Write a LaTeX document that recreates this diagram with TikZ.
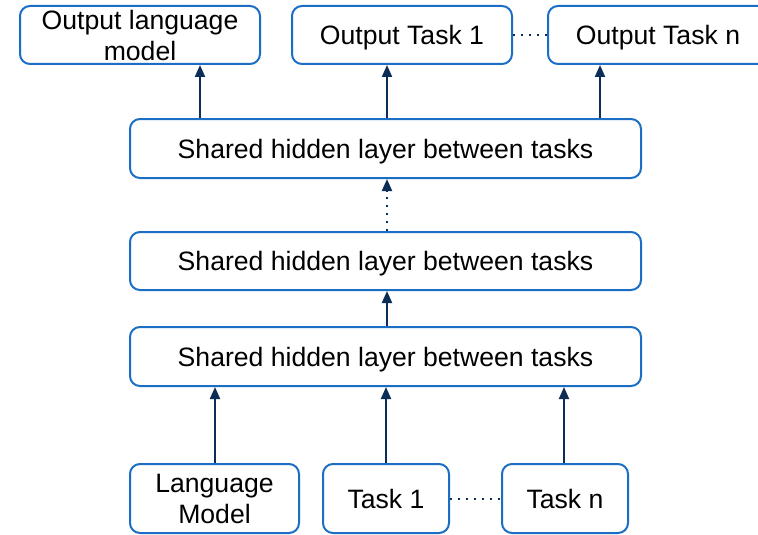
\documentclass[tikz,border=0pt]{standalone}
\usepackage{fontspec}
\setmainfont{Liberation Sans}
\usetikzlibrary{arrows.meta}
\definecolor{boxblue}{HTML}{1C6EC4}
\definecolor{arrownavy}{HTML}{0C2D55}
\tikzset{
  layerbox/.style={draw=boxblue, line width=2pt, rounded corners=10pt, fill=white,
    inner sep=0pt, align=center, text depth=0pt, font=\fontsize{26.6}{31}\selectfont},
  uparrow/.style={draw=arrownavy, line width=2pt, -{Triangle[length=12pt,width=10pt]}},
  dotarrow/.style={draw=arrownavy, line width=2pt, dash pattern=on 2pt off 6pt,
    -{Triangle[length=12pt,width=10pt]}},
  dotlink/.style={draw=arrownavy, line width=2pt, dash pattern=on 2pt off 6pt},
}
\begin{document}
\begin{tikzpicture}[x=1pt, y=-1pt]
\useasboundingbox (0,0) rectangle (758,535);
\clip (0,0) rectangle (758,535);
\fill[white] (0,0) rectangle (758,535);

% output heads
\node[layerbox, minimum width=240pt, minimum height=58pt] (olm) at (140,35) {Output language\\model};
\node[layerbox, minimum width=220pt, minimum height=58pt] (ot1) at (402,35) {Output Task 1};
\node[layerbox, minimum width=220pt, minimum height=58pt] (otn) at (658,35) {Output Task n};

% shared layers
\node[layerbox, minimum width=511pt, minimum height=59pt] (sh1) at (385.5,148.5) {Shared hidden layer between tasks};
\node[layerbox, minimum width=511pt, minimum height=58pt] (sh2) at (385.5,261) {Shared hidden layer between tasks};
\node[layerbox, minimum width=511pt, minimum height=59pt] (sh3) at (385.5,356.5) {Shared hidden layer between tasks};

% inputs
\node[layerbox, minimum width=169pt, minimum height=69pt] (lm) at (214.5,498.5) {Language\\Model};
\node[layerbox, minimum width=126pt, minimum height=69pt] (t1) at (386,498.5) {Task 1};
\node[layerbox, minimum width=126pt, minimum height=69pt] (tn) at (565,498.5) {Task n};

% column positions of the connectors
\coordinate (cA) at (200,0);
\coordinate (cB) at (387,0);
\coordinate (cC) at (600,0);
\coordinate (cD) at (215,0);
\coordinate (cE) at (564,0);

% connectors
\draw[uparrow] (sh1.north -| cA) -- (olm.south -| cA);
\draw[uparrow] (sh1.north -| cB) -- (ot1.south -| cB);
\draw[uparrow] (sh1.north -| cC) -- (otn.south -| cC);

\draw[dotarrow] (sh2.north -| cB) -- (sh1.south -| cB);
\draw[uparrow] (sh3.north -| cB) -- (sh2.south -| cB);

\draw[uparrow] (lm.north -| cD) -- (sh3.south -| cD);
\draw[uparrow] (t1.north) -- (sh3.south -| t1.north);
\draw[uparrow] (tn.north -| cE) -- (sh3.south -| cE);

\draw[dotlink] (ot1.east) -- (otn.west);
\draw[dotlink] (t1.east) -- (tn.west);
\end{tikzpicture}
\end{document}
